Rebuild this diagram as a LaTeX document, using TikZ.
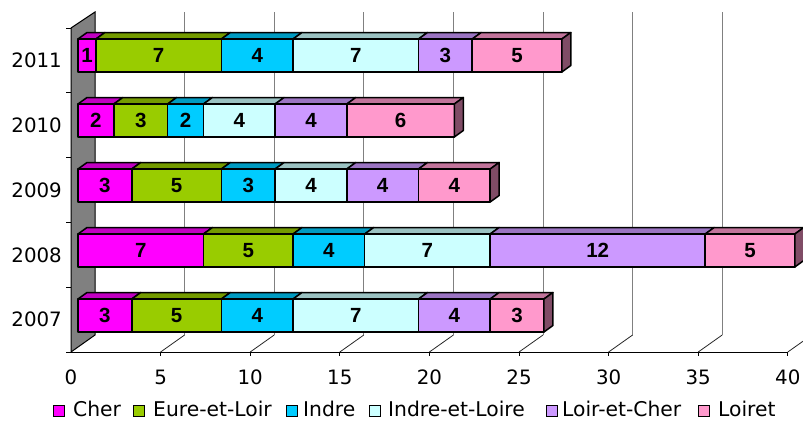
\documentclass[tikz,border=0pt]{standalone}
\usepackage{fontspec}
\setmainfont{DejaVu Sans}
\newfontfamily\barfont{Liberation Sans}
\definecolor{cA}{HTML}{FF00FF}
\definecolor{cB}{HTML}{99CC00}
\definecolor{cC}{HTML}{00CCFF}
\definecolor{cD}{HTML}{CCFFFF}
\definecolor{cE}{HTML}{CC99FF}
\definecolor{cF}{HTML}{FF99CC}
\definecolor{gridgray}{HTML}{808080}
\begin{document}
\begin{tikzpicture}[x=1pt,y=-1pt,
  gridline/.style={draw=gridgray,line width=1pt},
  floorline/.style={draw=black!85,line width=0.8pt},
  axisline/.style={draw=black,line width=1pt},
  barface/.style={draw=black,line width=1.5pt,line join=round},
  vallabel/.style={font=\barfont\bfseries\fontsize{20.5}{20.5}\selectfont,inner sep=0pt},
  ticklabel/.style={font=\fontsize{19.8}{20}\selectfont,inner sep=0pt},
  legtext/.style={font=\fontsize{20.3}{21}\selectfont,inner sep=0pt,anchor=base west},
  legbox/.style={draw=black,line width=1pt}]
\useasboundingbox (0,0) rectangle (803,421);
\begin{scope}
\clip (0,0) rectangle (803,421);
% back gridlines and floor lines
\foreach \v in {5,10,...,35}{
  \draw[gridline] ({95+17.92*\v},12) -- ({95+17.92*\v},335);
}
\foreach \v in {5,10,...,40}{
  \draw[floorline] ({71+17.92*\v},352) -- ({95+17.92*\v},335);
  \draw[axisline] ({71+17.92*\v},352) -- ({71+17.92*\v},356);
}
\end{scope}
% wall
\filldraw[fill=gridgray,draw=black,line width=1pt] (71,352) -- (95,335) -- (95,12) -- (71,28) -- cycle;
% axis
\draw[axisline] (66,352) -- (787,352);
\foreach \k in {0,...,5}{
  \draw[axisline] (66,{28+64.8*\k}) -- (71,{28+64.8*\k});
}
% x labels
\foreach \v in {0,5,...,40}{
  \node[ticklabel] (x\v) at ({71+17.92*\v},377) {\v};
}
% y labels
\foreach \yr [count=\k from 0] in {2011,2010,2009,2008,2007}{
  \node[ticklabel,anchor=east] (y\yr) at (62,{60.4+64.8*\k}) {\yr};
}
% bars
\foreach \yr/\row [count=\k from 0] in {
  2011/{0/1/cA,1/8/cB,8/12/cC,12/19/cD,19/22/cE,22/27/cF},
  2010/{0/2/cA,2/5/cB,5/7/cC,7/11/cD,11/15/cE,15/21/cF},
  2009/{0/3/cA,3/8/cB,8/11/cC,11/15/cD,15/19/cE,19/23/cF},
  2008/{0/7/cA,7/12/cB,12/16/cC,16/23/cD,23/35/cE,35/40/cF},
  2007/{0/3/cA,3/8/cB,8/12/cC,12/19/cD,19/23/cE,23/26/cF}}{
  \pgfmathsetmacro\yc{55.5+65*\k}
  \pgfmathsetmacro\yt{\yc-16.5}
  \pgfmathsetmacro\yb{\yc+16.5}
  \foreach \s/\e/\c [count=\i] in \row {
    \pgfmathsetmacro\xa{78+17.92*\s}
    \pgfmathsetmacro\xb{78+17.92*\e}
    \pgfmathtruncatemacro\val{\e-\s}
    \filldraw[barface,fill=\c!76!black] (\xa,\yt) -- (\xa+9,\yt-6.5) -- (\xb+9,\yt-6.5) -- (\xb,\yt) -- cycle;
    \filldraw[barface,fill=\c] (\xa,\yt) rectangle (\xb,\yb);
    \node[vallabel] (v\yr-\i) at ({(\xa+\xb)/2},\yc) {\val};
    \ifnum\i=6
      \filldraw[barface,fill=\c!50!black] (\xb,\yt) -- (\xb+9,\yt-6.5) -- (\xb+9,\yb-6.5) -- (\xb,\yb) -- cycle;
    \fi
  }
}
% legend
\foreach \bx/\tx/\c/\t [count=\i] in {
  53/73/cA/Cher, 133/153/cB/Eure-et-Loir, 286/303/cC/Indre,
  369/388/cD/Indre-et-Loire, 546/562/cE/Loir-et-Cher, 698/718/cF/Loiret}{
  \filldraw[legbox,fill=\c] (\bx,405) rectangle (\bx+11,416);
  \node[legtext] (leg\i) at (\tx,416.5) {\t};
}
\end{tikzpicture}
\end{document}
